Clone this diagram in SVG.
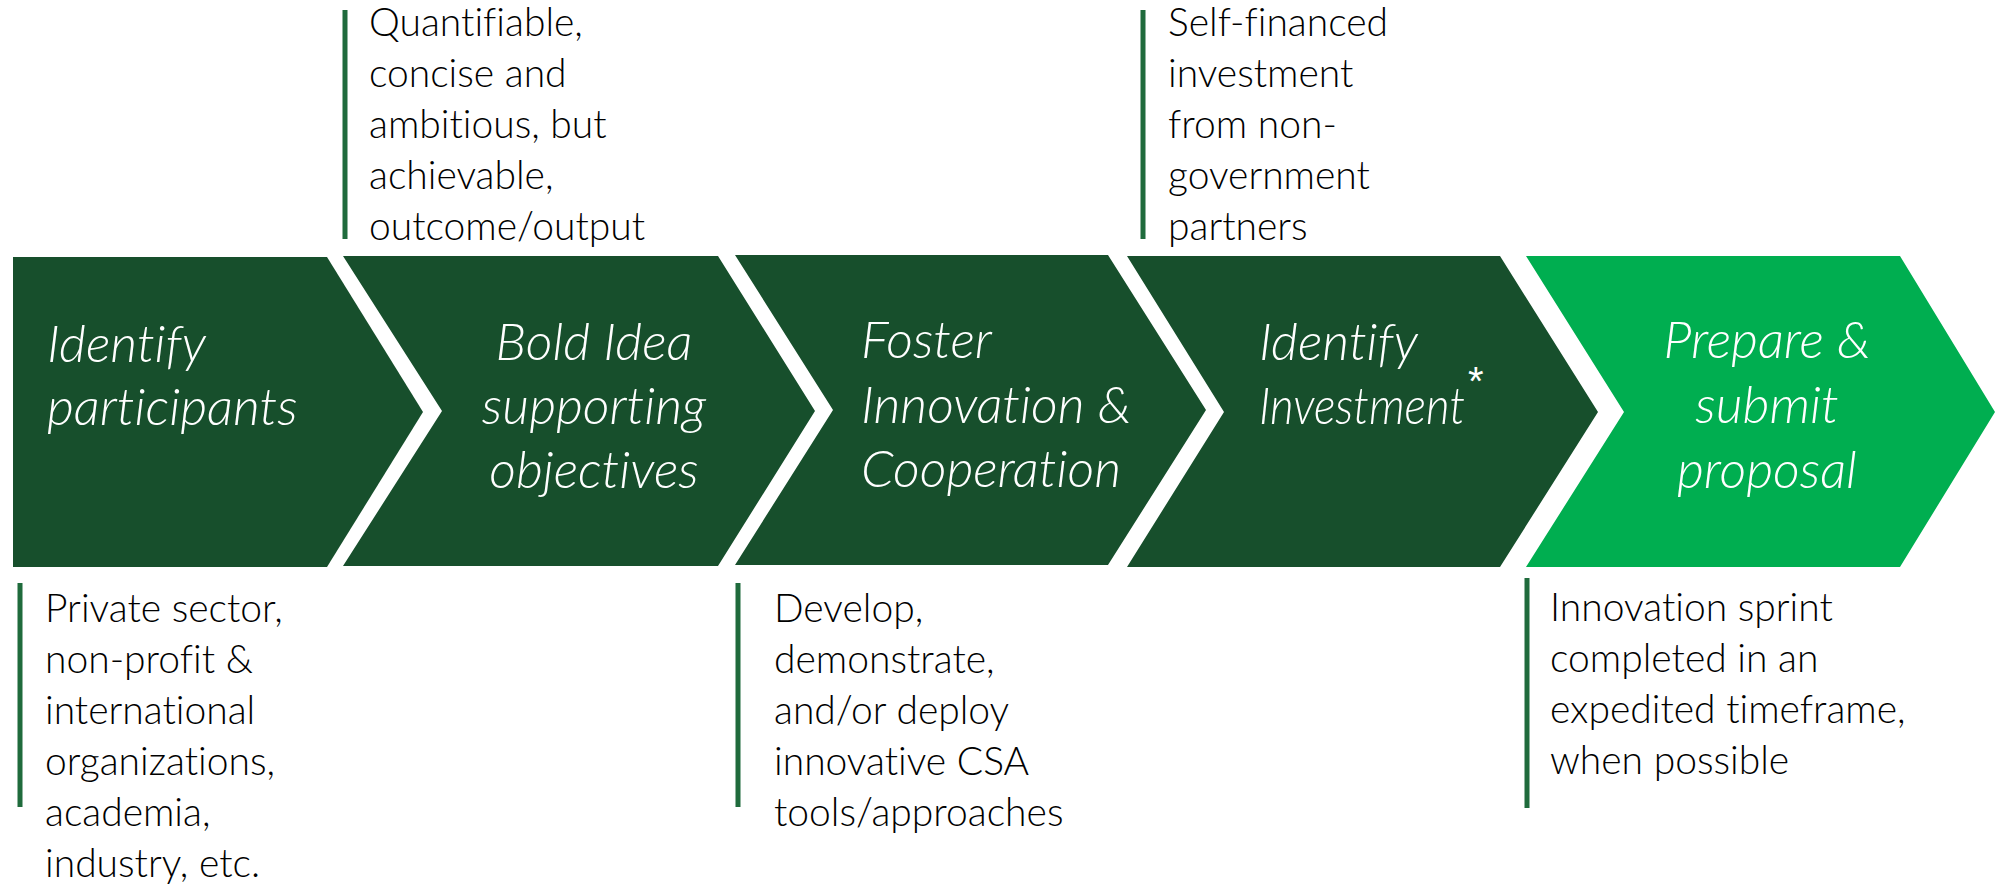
<svg xmlns="http://www.w3.org/2000/svg" width="1995" height="887" viewBox="0 0 1995 887">
<style>
.dark{fill:#174f2c}
.light{fill:#00ae50}
text{font-variant-ligatures:none;font-feature-settings:"liga" 0}
.ct{font-family:Lato,"Open Sans",sans-serif;font-style:italic;font-weight:300;font-size:52px;fill:#ffffff}
.sup{font-family:"Liberation Sans",Arial,sans-serif;font-size:40px;fill:#ffffff}
.nt{font-family:Lato,"Open Sans",sans-serif;font-weight:300;font-size:39px;fill:#000000}
.bar{stroke:#1f6b3c;stroke-width:5;fill:none}
</style>
<rect width="1995" height="887" fill="#ffffff"/>
<g id="step1">
<polygon class="dark" points="13,257 327,257 423,412 327,567 13,567"/>
<text class="ct"><tspan x="47" y="362">Identify</tspan><tspan x="47" y="425">participants</tspan></text>
</g>
<g id="step2">
<polygon class="dark" points="343,256 718,256 815,411 718,566 343,566 442,411"/>
<text class="ct" text-anchor="middle"><tspan x="594" y="360">Bold Idea</tspan><tspan x="594" y="424">supporting</tspan><tspan x="594" y="488">objectives</tspan></text>
</g>
<g id="step3">
<polygon class="dark" points="735,255 1108,255 1206,410 1108,565 735,565 833,410"/>
<text class="ct"><tspan x="861" y="358">Foster</tspan><tspan x="861" y="423">Innovation &amp;</tspan><tspan x="861" y="487">Cooperation</tspan></text>
</g>
<g id="step4">
<polygon class="dark" points="1127,256 1500,256 1598,412 1500,567 1127,567 1224,412"/>
<text class="ct"><tspan x="1259" y="360">Identify</tspan><tspan x="1259" y="424" textLength="206" lengthAdjust="spacingAndGlyphs">Investment</tspan></text>
<text class="sup" x="1468" y="395">*</text>
</g>
<g id="step5">
<polygon class="light" points="1526,256 1900,256 1995,412 1900,567 1526,567 1624,412"/>
<text class="ct" text-anchor="middle"><tspan x="1767" y="358">Prepare &amp;</tspan><tspan x="1767" y="423">submit</tspan><tspan x="1767" y="488">proposal</tspan></text>
</g>
<g id="note-objectives">
<line class="bar" x1="345" y1="10" x2="345" y2="239"/>
<text class="nt"><tspan x="369" y="36">Quantifiable,</tspan><tspan x="369" y="87">concise and</tspan><tspan x="369" y="138">ambitious, but</tspan><tspan x="369" y="189">achievable,</tspan><tspan x="369" y="240">outcome/output</tspan></text>
</g>
<g id="note-investment">
<line class="bar" x1="1143" y1="10" x2="1143" y2="239"/>
<text class="nt"><tspan x="1168" y="36">Self-financed</tspan><tspan x="1168" y="87">investment</tspan><tspan x="1168" y="138">from non-</tspan><tspan x="1168" y="189">government</tspan><tspan x="1168" y="240">partners</tspan></text>
</g>
<g id="note-participants">
<line class="bar" x1="20" y1="583" x2="20" y2="807"/>
<text class="nt"><tspan x="45" y="622">Private sector,</tspan><tspan x="45" y="673">non-profit &amp;</tspan><tspan x="45" y="724">international</tspan><tspan x="45" y="775">organizations,</tspan><tspan x="45" y="826">academia,</tspan><tspan x="45" y="877">industry, etc.</tspan></text>
</g>
<g id="note-innovation">
<line class="bar" x1="738" y1="583" x2="738" y2="807"/>
<text class="nt"><tspan x="774" y="622">Develop,</tspan><tspan x="774" y="673">demonstrate,</tspan><tspan x="774" y="724">and/or deploy</tspan><tspan x="774" y="775">innovative CSA</tspan><tspan x="774" y="826">tools/approaches</tspan></text>
</g>
<g id="note-proposal">
<line class="bar" x1="1527" y1="578" x2="1527" y2="808"/>
<text class="nt"><tspan x="1550" y="621">Innovation sprint</tspan><tspan x="1550" y="672">completed in an</tspan><tspan x="1550" y="723">expedited timeframe,</tspan><tspan x="1550" y="774">when possible</tspan></text>
</g>
<g id="connectors"/>
</svg>
